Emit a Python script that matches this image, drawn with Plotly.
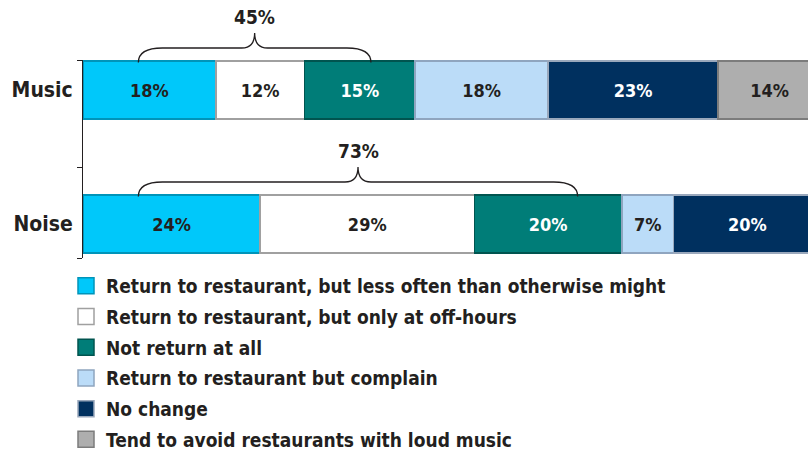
import plotly.graph_objects as go

# Survey answers: how diners react to loud music / noise in restaurants (percent)
categories = ["Music", "Noise"]
responses = [
    "Return to restaurant, but less often than otherwise might",
    "Return to restaurant, but only at off-hours",
    "Not return at all",
    "Return to restaurant but complain",
    "No change",
    "Tend to avoid restaurants with loud music",
]
music_pct = [18, 12, 15, 18, 23, 14]
noise_pct = [24, 29, 20, 7, 20, None]

# styling
fills = ["#00C8FA", "#FFFFFF", "#007D78", "#BBDCF8", "#00305F", "#AEAEAE"]
edges = ["#0094B9", "#A0A0A0", "#00544F", "#8FA5BF", "#9AA8BC", "#7C7C7C"]
text_colors = ["#231F20", "#231F20", "#FFFFFF", "#231F20", "#FFFFFF", "#231F20"]
FONT = "Liberation Sans Narrow, DejaVu Sans Condensed, Arial Narrow, sans-serif"
INK = "#231F20"

cat_pos = [1, 0]          # Music on top
bar_w = 0.433
y_range = [-0.2537, 1.2239]
x_range = [0, 98.2]
plot_px_w = 808 - 83
px_per_x = plot_px_w / (x_range[1] - x_range[0])

fig = go.Figure()
for i, name in enumerate(responses):
    xs = [music_pct[i], noise_pct[i]]
    fig.add_trace(go.Bar(
        y=cat_pos, x=xs, orientation="h", width=bar_w, name=name,
        marker=dict(color=fills[i], line=dict(color=edges[i], width=1.5)),
        texttemplate="%{x}%", textposition="inside", insidetextanchor="middle",
        textangle=0, constraintext="none",
        textfont=dict(family=FONT, size=18, color=text_colors[i], weight="bold"),
        showlegend=False, hoverinfo="skip",
    ))
    # legend entry
    fig.add_trace(go.Scatter(
        x=[None], y=[None], mode="markers", name=name, legendgroup=f"g{i}",
        marker=dict(symbol="square", size=16, color=fills[i],
                    line=dict(color=edges[i], width=1.5)),
    ))

# braces grouping the three "negative reaction" answers
def to_paper(y):
    return (y - y_range[0]) / (y_range[1] - y_range[0])

for pos, vals in zip(cat_pos, [music_pct, noise_pct]):
    total = sum(vals[:3])
    x0 = 7.5
    x1 = total - 6
    xm = (x0 + x1) / 2
    top = to_paper(pos + bar_w / 2)
    yb = top - 1.5 / 198
    yh = top + 13 / 198
    yt = top + 28 / 198
    rx = 24 / px_per_x
    rt = 13 / px_per_x
    path = (f"M {x0},{yb} Q {x0},{yh} {x0 + rx},{yh} L {xm - rt},{yh} "
            f"Q {xm},{yh} {xm},{yt} Q {xm},{yh} {xm + rt},{yh} "
            f"L {x1 - rx},{yh} Q {x1},{yh} {x1},{yb}")
    fig.add_shape(type="path", path=path, xref="x", yref="paper",
                  line=dict(color=INK, width=1.3))
    fig.add_annotation(x=xm, y=yt + 3 / 198, xref="x", yref="paper",
                       text=f"{total}%", showarrow=False, yanchor="bottom",
                       font=dict(family=FONT, size=19, color=INK, weight="bold"))

fig.update_layout(
    width=808, height=452,
    margin=dict(l=83, r=0, t=60, b=194, autoexpand=False),
    barmode="stack",
    paper_bgcolor="white", plot_bgcolor="white",
    xaxis=dict(range=x_range, visible=False, fixedrange=True),
    yaxis=dict(
        range=y_range, tickvals=cat_pos, ticktext=categories,
        ticks="", showline=True, linecolor=INK, linewidth=1,
        showgrid=False, zeroline=False, ticklabelstandoff=5,
        tickfont=dict(family=FONT, size=21, color=INK, weight="bold"),
        minor=dict(tickmode="array", tickvals=[y_range[1], 0.418, y_range[0]],
                   ticks="outside", ticklen=5, tickcolor=INK, showgrid=False),
    ),
    legend=dict(
        x=(66 - 83) / plot_px_w, y=(258 - 267) / 198, xanchor="left", yanchor="top",
        font=dict(family=FONT, size=19, color=INK, weight="bold"),
        tracegroupgap=3, itemclick=False, itemdoubleclick=False, maxheight=400,
    ),
    showlegend=True,
)

fig.write_html("out.html")
